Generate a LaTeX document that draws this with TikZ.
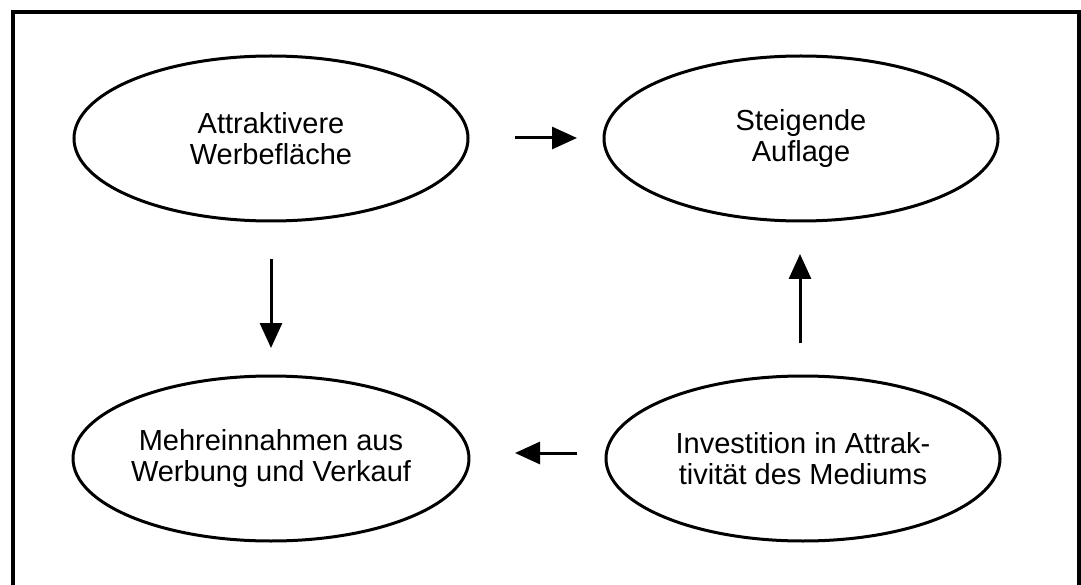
\documentclass[tikz,border=0pt]{standalone}
\usepackage{fontspec}
\setmainfont{Liberation Sans}
\usetikzlibrary{shapes.geometric,arrows.meta}
\begin{document}
\begin{tikzpicture}[x=1pt,y=-1pt,
  bubble/.style={draw,line width=3pt,ellipse,minimum width=394pt,minimum height=165pt,
    inner sep=0pt,align=center,font=\fontsize{29}{31}\selectfont},
  flow/.style={line width=3pt,-{Triangle[length=25pt,width=22pt]}}]
\useasboundingbox (0,0) rectangle (1081,585);
\clip (0,0) rectangle (1081,585);
% open frame, its lower edge runs below the page
\draw[line width=4pt] (13,600) -- (13,12) -- (1079,12) -- (1079,600);

\node[bubble] (werbe) at (271,138.5) {Attraktivere\\Werbefläche};
\node[bubble] (auflage) at (801,138.5) {Steigende\\Auflage};
\node[bubble] (mehr) at (271,458.5) {Mehreinnahmen aus\\Werbung und Verkauf};
\node[bubble] (invest) at (803,458.5) {Investition in Attrak-\\tivität des Mediums};

% arrow end points between the bubbles
\coordinate (t1) at (515,138);  \coordinate (t2) at (577,138);
\coordinate (l1) at (271,259);  \coordinate (l2) at (271,348);
\coordinate (r1) at (800,343);  \coordinate (r2) at (800,254);
\coordinate (b1) at (577,453);  \coordinate (b2) at (515,453);

\draw[flow] (t1) -- (t2);
\draw[flow] (l1) -- (l2);
\draw[flow] (r1) -- (r2);
\draw[flow] (b1) -- (b2);
\end{tikzpicture}
\end{document}
